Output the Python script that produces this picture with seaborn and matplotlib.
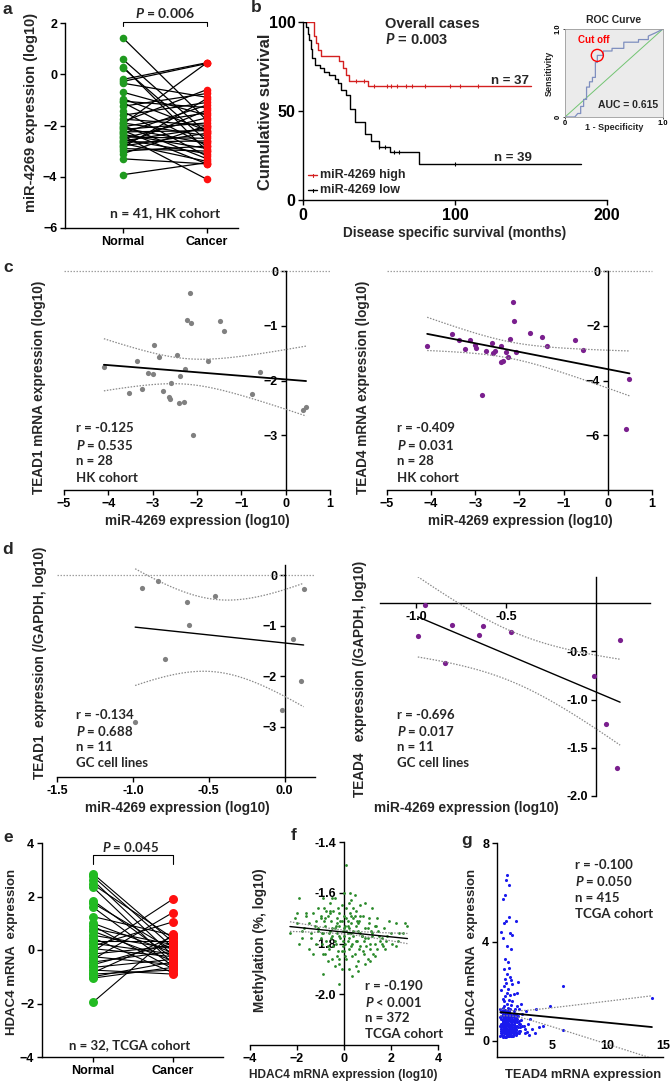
import numpy as np
import pandas as pd
import matplotlib
matplotlib.use("Agg")
import matplotlib.pyplot as plt
from matplotlib.lines import Line2D
import seaborn as sns

# ---------------- data ----------------
# panel a: paired miR-4269 (log10), HK cohort
a_normal = [1.42, 0.58, 0.30, 0.25, -0.20, -0.28, -0.35, -0.70, -0.95, -1.05, -1.10, -1.25, -1.45,
            -1.60, -1.75, -1.85, -1.90, -1.95, -2.00, -2.05, -2.10, -2.15, -2.20, -2.25, -2.30, -2.35,
            -2.40, -2.45, -2.50, -2.55, -2.60, -2.65, -2.70, -2.75, -2.80, -2.85, -2.90, -3.00, -3.10,
            -3.30, -3.92]
a_cancer = [-1.80, -2.30, -3.00, -2.60, 0.45, 0.42, -0.90, -1.60, -2.20, -1.30, -2.80, -0.75, -3.20,
            -1.10, -2.00, -0.60, -2.40, 0.45, -3.30, -1.50, -2.70, -1.90, -3.50, -2.20, -1.20, -2.90,
            -4.10, -2.50, -1.70, -3.10, -2.10, -2.60, -3.40, -1.40, -2.30, -0.95, -3.00, -2.80, -2.00,
            -3.50, -3.45]
a_groups = ["Normal", "Cancer"]

# panel b: Kaplan-Meier steps
km_high_t = [0, 7.5, 8.5, 10, 12, 24, 26, 28, 30, 43, 150]
km_high_s = [100, 92, 88, 84, 81, 78, 74, 70, 67, 64, 64]
km_high_cens = [35, 40, 47, 55, 58, 62, 68, 72, 80, 97, 103, 115]
km_low_t = [0, 2, 3, 4, 5, 6, 8, 11, 14, 17, 21, 23, 25, 28, 31, 34, 41, 45, 50, 57, 76, 183]
km_low_s = [100, 97, 93, 90, 85, 80, 76, 74, 72, 70, 68, 66, 62, 59, 51, 44, 37, 33, 30, 27, 20, 20]
km_low_cens = [50, 54, 60, 63, 100]

# ROC inset
roc_fpr = [0.0, 0.10, 0.13, 0.16, 0.16, 0.19, 0.19, 0.22, 0.22, 0.25, 0.25, 0.28, 0.28, 0.31, 0.31,
           0.33, 0.33, 0.39, 0.39, 0.48, 0.48, 0.60, 0.60, 0.75, 0.75, 0.85, 0.85, 0.93, 1.0]
roc_tpr = [0.0, 0.0, 0.04, 0.04, 0.12, 0.12, 0.20, 0.20, 0.34, 0.34, 0.40, 0.40, 0.45, 0.45, 0.62,
           0.62, 0.70, 0.70, 0.75, 0.75, 0.78, 0.78, 0.85, 0.85, 0.88, 0.88, 0.92, 0.96, 1.0]
roc_cut = (0.33, 0.70)

# panel c: HK cohort, n = 28
c1_x = [-2.16, -2.22, -2.14, -1.48, -1.38, -2.98, -2.86, -2.44, -3.36, -1.76, -2.26, -4.10, -3.11, -3.00,
        -2.38, -0.59, -2.58, -3.53, -3.23, -2.76, -2.63, -2.62, -2.41, -2.30, -0.77, 0.40, 0.46, -2.08]
c1_y = [-0.41, -0.89, -0.95, -0.92, -1.09, -1.36, -1.57, -1.53, -1.65, -1.64, -1.79, -1.75, -1.87, -1.89,
        -1.92, -1.85, -2.05, -2.22, -2.16, -2.19, -2.30, -2.33, -2.41, -2.39, -2.25, -2.53, -2.48, -2.99]
c4_x = [-2.15, -2.13, -2.21, -1.77, -1.48, -0.74, -1.38, -0.57, -3.53, -3.36, -3.11, -4.09, -3.23, -3.00,
        -2.98, -2.76, -2.62, -2.61, -2.56, -2.42, -2.30, -2.25, -2.41, -2.37, -2.07, -2.85, 0.49, 0.42]
c4_y = [-1.14, -1.84, -2.47, -2.27, -2.42, -2.51, -2.75, -2.87, -2.30, -2.51, -2.51, -2.75, -2.85, -2.69,
        -2.81, -2.93, -2.63, -2.99, -2.93, -2.73, -2.97, -3.14, -3.31, -3.30, -2.97, -4.53, -3.96, -5.78]

# panel d: GC cell lines, n = 11
d1_x = [-0.937, -0.832, -0.642, -0.460, -0.628, -0.788, -0.985, 0.125, 0.055, 0.109, -0.018]
d1_y = [-0.26, -0.11, -0.54, -0.41, -0.98, -1.67, -2.91, -0.28, -1.27, -2.09, -2.68]
d4_x = [-0.95, -0.99, -0.80, -0.63, -0.65, -0.47, -0.84, 0.134, -0.013, 0.058, 0.115]
d4_y = [-0.02, -0.34, -0.23, -0.24, -0.33, -0.30, -0.62, -0.38, -0.76, -1.25, -1.71]

# panel e: paired HDAC4 mRNA, TCGA
e_normal = [2.85, 2.75, 2.60, 2.45, 2.35, 1.85, 1.75, 1.60, 1.25, 1.00, 0.90, 0.80, 0.70, 0.55, 0.45, 0.35,
            0.25, 0.15, 0.05, -0.05, -0.15, -0.25, -0.35, -0.45, -0.55, -0.65, -0.75, -0.85, -0.90, -1.00,
            -1.05, -1.95]
e_cancer = [0.30, 0.10, -0.20, 0.45, -0.50, -0.30, 0.00, -0.60, 0.55, -0.10, -0.70, 0.20, -0.40, 0.05,
            -0.85, 0.35, -0.15, 1.05, -0.25, 1.90, 0.15, -0.55, 1.40, -0.05, 0.25, -0.35, -0.90, 0.50,
            -0.75, -0.45, -0.65, 0.60]

# panel f: HDAC4 mRNA vs methylation (estimated cloud)
f_x = [0.08, -1.9, 0.25, -0.9, -2.1, -2.3, -1.9, -0.9, -0.2, -0.4, 0.9, 1.1, 2.2, 2.6, 2.7, 2.3, 2.2, 1.6,
       2.0, 1.3, -1.5, -1.4, -1.3, -1.2, -1.1, -1.0, -1.0, -0.9, -0.85, -0.8, -0.75, -0.7, -0.65, -0.6,
       -0.55, -0.5, -0.5, -0.45, -0.4, -0.35, -0.3, -0.3, -0.25, -0.2, -0.2, -0.15, -0.1, -0.1, -0.05,
       -0.05, 0.0, 0.0, 0.05, 0.05, 0.1, 0.1, 0.15, 0.15, 0.2, 0.2, 0.25, 0.3, 0.3, 0.35, 0.4, 0.4, 0.45,
       0.5, 0.5, 0.55, 0.6, 0.65, 0.7, 0.75, 0.8, 0.85, 0.9, 1.0, 1.05, 1.1, 1.2, 1.3, 1.4, 1.5, 1.7, 1.8,
       -1.7, -1.6, -1.8, -1.3, -0.6, 0.3, 0.7, -0.2, 0.2, 0.6, -0.7, 1.2, -1.1, 0.9, 0.0, -0.4, 0.45, 1.0,
       -1.5, -2.0, 2.5, 1.9, -0.95, 0.35,
       -1.2, -1.0, -0.9, -0.8, -0.7, -0.6, -0.5, -0.4, -0.3, -0.2, -0.1, 0.0, 0.1, 0.2, 0.3, 0.4, 0.5, 0.6,
       0.7, 0.8, 0.9, 1.0, 1.1, 1.2, 1.4, 1.6,
       -1.1, -0.95, -0.75, -0.55, -0.35, -0.15, 0.05, 0.25, 0.45, 0.65, 0.85, 1.05, 1.25, 1.45, 1.65, 1.85,
       2.05, 2.35,
       -1.6, -1.4, -1.25, -0.85, -0.65, -0.45, -0.25, -0.05, 0.15, 0.35, 0.55, 0.75, 0.95, 1.15, 1.35, 1.55,
       1.75,
       -2.0, -1.8, -0.3, 0.1, 0.5, -0.6, 0.2, 0.0, -0.1, 0.4, 0.7, -0.8, 1.3, -0.5, 0.3, 0.6, -0.2, 0.15]
f_y = [-1.49, -1.62, -1.60, -1.62, -1.70, -1.76, -1.80, -1.92, -1.96, -1.89, -1.88, -1.87, -1.72, -1.72,
       -1.73, -1.79, -1.81, -1.80, -1.76, -1.73, -1.72, -1.76, -1.68, -1.80, -1.74, -1.70, -1.78, -1.84,
       -1.66, -1.73, -1.79, -1.69, -1.82, -1.75, -1.71, -1.77, -1.86, -1.67, -1.74, -1.80, -1.70, -1.76,
       -1.83, -1.68, -1.73, -1.78, -1.65, -1.71, -1.75, -1.81, -1.69, -1.77, -1.73, -1.85, -1.66, -1.75,
       -1.79, -1.71, -1.74, -1.82, -1.68, -1.76, -1.72, -1.80, -1.70, -1.77, -1.84, -1.73, -1.67, -1.79,
       -1.75, -1.71, -1.81, -1.77, -1.69, -1.84, -1.74, -1.78, -1.72, -1.82, -1.76, -1.80, -1.70, -1.77,
       -1.74, -1.79, -1.74, -1.69, -1.78, -1.84, -1.64, -1.63, -1.65, -1.88, -1.90, -1.87, -1.87, -1.66,
       -1.66, -1.64, -1.60, -1.62, -1.61, -1.86, -1.82, -1.72, -1.76, -1.71, -1.76, -1.93,
       -1.71, -1.69, -1.76, -1.70, -1.81, -1.68, -1.74, -1.79, -1.72, -1.77, -1.83, -1.74, -1.70, -1.78,
       -1.81, -1.75, -1.79, -1.72, -1.76, -1.83, -1.78, -1.74, -1.80, -1.77, -1.82, -1.78,
       -1.75, -1.80, -1.67, -1.78, -1.73, -1.71, -1.80, -1.76, -1.69, -1.82, -1.79, -1.70, -1.84, -1.75,
       -1.81, -1.77, -1.80, -1.76,
       -1.68, -1.78, -1.73, -1.71, -1.76, -1.81, -1.66, -1.79, -1.73, -1.85, -1.71, -1.77, -1.81, -1.75,
       -1.73, -1.79, -1.82,
       -1.68, -1.75, -1.85, -1.86, -1.89, -1.67, -1.64, -1.83, -1.90, -1.66, -1.69, -1.84, -1.85, -1.62,
       -1.69, -1.91, -1.86, -1.76]

# panel g: TEAD4 vs HDAC4 mRNA (estimated cloud)
g_x = [0.9, 0.8, 1.1, 0.5, 0.7, 1.1, 0.8, 1.7, 0.6, 0.4, 1.2, 1.4, 0.5, 0.9, 1.3, 0.7, 1.0, 1.1, 0.6,
       0.9, 1.2, 0.7, 1.3, 0.8, 1.4, 1.9, 0.6, 1.0, 0.4, 0.9, 1.5, 1.2, 0.7, 1.8, 0.5, 1.1,
       6.0, 14.0, 4.8, 3.5, 6.0, 2.6, 3.0, 2.4, 2.2,
       2.7, 3.2, 2.9, 3.8, 2.5, 3.4, 4.2,
       0.3, 0.4, 0.5, 0.5, 0.6, 0.6, 0.7, 0.7, 0.8, 0.8, 0.9, 0.9, 1.0, 1.0, 1.0, 1.1, 1.1, 1.2, 1.2,
       1.3, 1.3, 1.4, 1.4, 1.5, 1.5, 1.6, 1.6, 1.7, 1.8, 1.9, 2.0, 2.1, 2.3, 0.4, 0.6, 0.8, 0.9, 1.0,
       1.1, 1.2, 0.5, 0.7, 1.3, 1.5, 0.3, 0.6, 1.4, 1.7, 0.8, 1.0, 2.0, 1.8, 0.5, 0.9, 1.6,
       0.3, 0.35, 0.4, 0.45, 0.5, 0.55, 0.6, 0.65, 0.7, 0.75, 0.8, 0.85, 0.9, 0.95, 1.0, 1.05, 1.1, 1.15,
       1.2, 1.25, 1.3, 1.35, 1.4, 1.45, 1.5, 1.55, 1.6, 1.7, 1.75, 1.85, 1.95, 2.05, 2.2, 2.5, 2.8,
       0.4, 0.5, 0.6, 0.7, 0.8, 0.9, 1.0, 1.1, 1.2, 1.3, 1.4, 1.5, 1.6, 1.8, 2.0,
       0.45, 0.65, 0.85, 1.05, 1.25, 1.45, 0.55, 0.75, 0.95, 1.15,
       0.35, 0.45, 0.55, 0.65, 0.75, 0.85, 0.95, 1.05, 1.15, 1.25, 1.35, 1.45, 1.55, 1.65, 1.75, 1.85,
       0.4, 0.5, 0.6, 0.7,
       0.8, 0.9, 1.0, 1.1, 1.2, 1.3, 1.4, 1.5, 1.6, 1.7, 0.3, 0.5, 0.7, 0.9, 1.1, 1.3, 1.5, 1.7, 1.9, 2.1,
       0.35, 0.55, 0.75, 0.95, 1.15, 1.35, 1.55, 0.45, 0.65, 0.85, 1.05, 1.25, 1.45, 0.6, 0.8, 1.0, 1.2,
       1.4, 0.7, 0.9,
       1.0, 1.1, 1.2, 0.5, 0.6, 0.8, 1.3, 1.5, 0.4, 0.9, 1.7, 2.0, 2.3, 0.7, 1.1, 1.6, 0.55, 0.85, 1.25,
       1.45]
g_y = [6.7, 6.5, 6.3, 5.75, 5.9, 5.0, 4.85, 4.85, 4.75, 4.4, 4.35, 4.3, 4.15, 3.85, 3.7, 3.3, 3.2, 2.95,
       2.9, 2.7, 2.6, 2.5, 2.45, 2.35, 2.3, 2.4, 2.2, 2.1, 2.05, 1.95, 1.9, 1.85, 1.8, 1.95, 1.7, 1.65,
       2.2, 1.75, 1.4, 1.3, 0.45, 1.2, 0.9, 0.6, 1.5,
       0.35, 0.5, 0.25, 0.55, 0.3, 0.3, 0.6,
       1.3, 0.9, 1.1, 0.5, 1.4, 0.3, 1.0, 0.7, 1.2, 0.4, 1.5, 0.8, 1.0, 0.6, 0.2, 1.3, 0.9, 0.5, 1.1,
       0.8, 1.45, 0.4, 1.0, 0.7, 1.2, 0.9, 0.35, 1.1, 0.6, 1.0, 0.8, 0.4, 1.1, 0.3, 0.8, 0.6, 1.1, 1.35,
       0.5, 0.8, 0.75, 1.25, 0.3, 0.5, 0.6, 1.6, 1.6, 0.8, 0.9, 0.45, 1.3, 1.4, 1.35, 0.35, 1.3,
       0.2, 0.7, 1.0, 0.4, 0.9, 0.15, 0.6, 1.2, 0.3, 0.85, 1.05, 0.5, 0.25, 0.95, 0.7, 1.15, 0.35, 0.8,
       0.55, 1.0, 0.2, 0.65, 0.9, 0.45, 1.1, 0.3, 0.75, 0.5, 1.0, 0.3, 0.7, 0.55, 0.85, 0.5, 0.7,
       0.55, 0.35, 0.95, 0.15, 0.7, 0.5, 0.85, 0.25, 0.6, 1.05, 0.75, 0.3, 0.55, 0.9, 0.4,
       1.2, 0.5, 0.3, 0.9, 0.65, 0.2, 0.8, 0.45, 0.6, 1.0,
       0.6, 0.25, 0.85, 0.45, 1.1, 0.3, 0.65, 0.4, 0.95, 0.2, 0.55, 0.8, 0.35, 0.6, 0.25, 0.75,
       1.15, 0.65, 0.2, 0.9,
       0.5, 1.05, 0.3, 0.7, 0.95, 0.45, 0.2, 0.85, 0.6, 0.35, 0.95, 0.4, 0.55, 0.75, 0.2, 1.0, 0.65, 0.45,
       0.55, 0.7,
       0.4, 1.0, 0.6, 0.25, 1.3, 0.8, 0.5, 0.7, 1.25, 0.45, 0.85, 0.35, 1.05, 0.55, 0.15, 1.1, 0.65,
       0.5, 0.45, 1.2,
       0.9, 0.55, 0.3, 1.05, 0.75, 0.35, 0.6, 0.95, 0.5, 0.65, 0.9, 0.3, 0.6, 0.8, 1.2, 0.5, 0.4, 0.95,
       0.75, 0.25]

# ---------------- style ----------------
sns.set_theme(style="ticks")
plt.rcParams['font.family'] = ['Liberation Sans', 'DejaVu Sans']
plt.rcParams['font.weight'] = 'bold'
plt.rcParams['mathtext.fontset'] = 'custom'
plt.rcParams['mathtext.it'] = 'Lato:italic:bold'
plt.rcParams['mathtext.rm'] = 'Lato:bold'
plt.rcParams['axes.linewidth'] = 1.0
plt.rcParams['axes.edgecolor'] = 'black'
plt.rcParams['xtick.color'] = 'black'
plt.rcParams['ytick.color'] = 'black'

GREEN = '#1f9a1f'
RED = '#ff1010'
GREY = '#808080'
PURPLE = '#7a1f8e'
NOTE = ['Lato', 'DejaVu Sans']

W, H = 671, 1084
fig = plt.figure(figsize=(W / 100, H / 100), dpi=100)
fig.patch.set_facecolor('white')


def add_ax(x0, y0, x1, y1):
    return fig.add_axes([x0 / W, 1 - y1 / H, (x1 - x0) / W, (y1 - y0) / H])


def ftext(x, y, s, **kw):
    kw.setdefault('ha', 'center')
    kw.setdefault('va', 'center')
    kw.setdefault('fontweight', 'bold')
    fig.text(x / W, 1 - y / H, s, **kw)


def base(ax, fs=9):
    for s in ['top', 'right']:
        ax.spines[s].set_visible(False)
    ax.tick_params(direction='out', length=3.5, width=1, labelsize=fs, pad=2)
    ax.set_xlabel('')
    ax.set_ylabel('')
    ax.set_facecolor('none')


def fit_ci(x, y, n_report=None):
    x = np.asarray(x, float)
    y = np.asarray(y, float)
    m = len(x)
    b, a = np.polyfit(x, y, 1)
    xs = np.linspace(x.min(), x.max(), 80)
    yh = a + b * xs
    res = y - (a + b * x)
    s = np.sqrt(np.sum(res ** 2) / (m - 2))
    sxx = np.sum((x - x.mean()) ** 2)
    n = n_report if n_report else m
    sxx_eff = sxx * n / m
    se = s * np.sqrt(1.0 / n + (xs - x.mean()) ** 2 / sxx_eff)
    t = {28: 2.056, 11: 2.262}.get(n, 1.966)
    return xs, yh, yh + t * se, yh - t * se


def reg_lines(ax, x, y, n_report=None, lw=1.3):
    xs, yh, up, lo = fit_ci(x, y, n_report)
    sns.lineplot(x=xs, y=yh, color='black', lw=lw, ax=ax, zorder=4)
    for band in (up, lo):
        sns.lineplot(x=xs, y=band, color='#8a8a8a', lw=0.9, ls=(0, (1.2, 1.2)), ax=ax, zorder=4)


def notes(x, y0, lines, dy=16.5, fs=9.5):
    for i, s in enumerate(lines):
        ftext(x, y0 + i * dy, s, ha='left', fontsize=fs, family=NOTE)


# panel letters
for lab, (x, y) in {'a': (7, 9), 'b': (256, 8), 'c': (8, 268), 'd': (8, 550),
                    'e': (8, 838), 'f': (294, 836), 'g': (467, 840)}.items():
    ftext(x, y, lab, fontsize=12.5)

# ---------------- panel a ----------------
ax = add_ax(65, 23, 238, 228)
n = len(a_normal)
dfa = pd.DataFrame({'pair': list(range(n)) * 2, 'x': [0] * n + [1] * n, 'y': a_normal + a_cancer})
sns.lineplot(data=dfa, x='x', y='y', units='pair', estimator=None, color='black', lw=0.9,
             ax=ax, legend=False)
sns.scatterplot(x=[0] * n, y=a_normal, color=GREEN, s=30, linewidth=0, ax=ax, zorder=3)
sns.scatterplot(x=[1] * n, y=a_cancer, color=RED, s=30, linewidth=0, ax=ax, zorder=3)
ax.set_xlim(-0.69, 1.37)
ax.set_ylim(-6, 2)
ax.set_xticks([0, 1])
ax.set_xticklabels(a_groups)
ax.set_yticks([-6, -4, -2, 0, 2])
base(ax, 9)
ax.plot([0, 0, 1, 1], [1.9, 2.03, 2.03, 1.9], color='black', lw=0.8, clip_on=False)
ftext(165, 13, r'$\mathit{P}$ = 0.006', fontsize=10, family=NOTE)
ftext(165, 213, 'n = 41, HK cohort', fontsize=10, family=NOTE)
ftext(31, 112, 'miR-4269 expression (log10)', rotation=90, fontsize=10.5)

# ---------------- panel b ----------------
ax = add_ax(303, 22, 607, 200)
sns.lineplot(x=km_high_t, y=km_high_s, drawstyle='steps-post', estimator=None, sort=False,
             color='#d42020', lw=1.0, ax=ax)
sns.lineplot(x=km_low_t, y=km_low_s, drawstyle='steps-post', estimator=None, sort=False,
             color='black', lw=1.0, ax=ax)


def km_at(tt, ss, t):
    return [ss[np.searchsorted(tt, v, side='right') - 1] for v in t]


ax.scatter(km_high_cens, km_at(km_high_t, km_high_s, km_high_cens), marker='|', s=10,
           color='#d42020', lw=0.8, zorder=3)
ax.scatter(km_low_cens, km_at(km_low_t, km_low_s, km_low_cens), marker='|', s=10,
           color='black', lw=0.8, zorder=3)
ax.set_xlim(0, 200)
ax.set_ylim(0, 100)
ax.set_xticks([0, 100, 200])
ax.set_yticks([0, 50, 100])
base(ax, 11.5)
ftext(385, 24, 'Overall cases', ha='left', fontsize=10.5)
ftext(385, 40, r'$\mathit{P}$ = 0.003', ha='left', fontsize=10.5, family=['Liberation Sans'])
ftext(510, 81, 'n = 37', fontsize=9.5)
ftext(513, 158, 'n = 39', fontsize=9.5)
for yy, col, lab in [(175, '#d42020', 'miR-4269 high'), (190, 'black', 'miR-4269 low')]:
    fig.add_artist(Line2D([308 / W, 317 / W], [1 - yy / H] * 2, color=col, lw=1.0))
    fig.add_artist(Line2D([312.5 / W] * 2, [1 - (yy - 1.5) / H, 1 - (yy + 1.5) / H], color=col, lw=0.8))
    ftext(320, yy, lab, ha='left', fontsize=9)
ftext(265, 112, 'Cumulative survival', rotation=90, fontsize=12)
ftext(455, 233, 'Disease specific survival (months)', fontsize=9.8)

# ROC inset
ax = add_ax(565, 29, 663, 117)
ax.set_facecolor('#ebebeb')
sns.lineplot(x=[0, 1], y=[0, 1], color='#72c472', lw=0.7, ax=ax)
sns.lineplot(x=roc_fpr, y=roc_tpr, estimator=None, sort=False, color='#7f8fbf', lw=0.9, ax=ax)
ax.scatter([roc_cut[0]], [roc_cut[1]], s=75, facecolor='none', edgecolor='red', lw=1.0, zorder=5)
ax.set_xlim(0, 1)
ax.set_ylim(0, 1)
ax.set_xticks([0, 1])
ax.set_xticklabels(['0', '1.0'])
ax.set_yticks([0, 1])
ax.set_yticklabels(['0', '1.0'], rotation=90, va='center')
for s in ax.spines.values():
    s.set_color('#9a9a9a')
    s.set_linewidth(0.6)
ax.tick_params(length=1.5, width=0.5, labelsize=5.5, pad=1)
ax.set_xlabel('')
ax.set_ylabel('')
ax.text(0.13, 0.84, 'Cut off', color='red', fontsize=7, fontweight='bold', transform=ax.transAxes)
ax.text(0.95, 0.1, 'AUC = 0.615', ha='right', fontsize=7.5, fontweight='bold', transform=ax.transAxes)
ftext(614, 20, 'ROC Curve', fontsize=7.5)
ftext(614, 128, '1 - Specificity', fontsize=6.5)
ftext(549, 73, 'Sensitivity', rotation=90, fontsize=6.5)

# ---------------- panel c ----------------
for (x0, x1, xd, yd, col, ylo, yt, lab, nt, tx, ylx, xlx) in [
        (64, 330, c1_x, c1_y, GREY, -4, [0, -1, -2, -3], 'TEAD1 mRNA expression (log10)',
         ['r = -0.125', r'$\mathit{P}$ = 0.535', 'n = 28', 'HK cohort'], 76, 39, 197),
        (387, 652, c4_x, c4_y, PURPLE, -8, [0, -2, -4, -6], 'TEAD4 mRNA expression (log10)',
         ['r = -0.409', r'$\mathit{P}$ = 0.031', 'n = 28', 'HK cohort'], 397, 363, 520)]:
    ax = add_ax(x0, 271, x1, 490)
    ax.axhline(0, color='#a0a0a0', lw=0.9, ls=(0, (1.2, 1.2)), clip_on=False, zorder=1)
    sns.scatterplot(x=xd, y=yd, color=col, s=14, linewidth=0, ax=ax, zorder=3)
    reg_lines(ax, xd, yd)
    ax.set_xlim(-5, 1)
    ax.set_ylim(ylo, 0)
    ax.set_xticks([-5, -4, -3, -2, -1, 0, 1])
    ax.set_yticks(yt)
    base(ax, 9)
    ax.spines['left'].set_position(('data', 0))
    notes(tx, 428, nt)
    ftext(ylx, 387, lab, rotation=90, fontsize=9.8)
    ftext(xlx, 521, 'miR-4269 expression (log10)', fontsize=9.8)

# ---------------- panel d ----------------
ax = add_ax(57, 565, 315, 777)
ax.axhline(0, color='#a0a0a0', lw=0.9, ls=(0, (1.2, 1.2)), zorder=1)
sns.scatterplot(x=d1_x, y=d1_y, color=GREY, s=14, linewidth=0, ax=ax, zorder=3)
reg_lines(ax, d1_x, d1_y, lw=1.0)
ax.set_xlim(-1.5, 0.2)
ax.set_ylim(-4, 0.2)
ax.set_xticks([-1.5, -1.0, -0.5, 0.0])
ax.set_xticklabels(['-1.5', '-1.0', '-0.5', '0.0'])
ax.set_yticks([0, -1, -2, -3])
base(ax, 9)
ax.spines['left'].set_position(('data', 0))
notes(76, 715, ['r = -0.134', r'$\mathit{P}$ = 0.688', 'n = 11', 'GC cell lines'], dy=16)
ftext(40, 663, 'TEAD1  expression (/GAPDH, log10)', rotation=90, fontsize=9.8)
ftext(177, 808, 'miR-4269 expression (log10)', fontsize=9.8)

ax = add_ax(380, 577, 650, 796)
sns.scatterplot(x=d4_x, y=d4_y, color=PURPLE, s=14, linewidth=0, ax=ax, zorder=3)
reg_lines(ax, d4_x, d4_y, lw=1.0)
ax.set_xlim(-1.2, 0.3)
ax.set_ylim(-2.0, 0.27)
ax.set_xticks([-1.0, -0.5])
ax.set_xticklabels(['-1.0', '-0.5'])
ax.set_yticks([-0.5, -1.0, -1.5, -2.0])
ax.set_yticklabels(['-0.5', '-1.0', '-1.5', '-2.0'])
base(ax, 9)
ax.spines['left'].set_position(('data', 0))
ax.spines['bottom'].set_position(('data', 0))
notes(397, 715, ['r = -0.696', r'$\mathit{P}$ = 0.017', 'n = 11', 'GC cell lines'], dy=16)
ftext(360, 679, 'TEAD4   expression (/GAPDH, log10)', rotation=90, fontsize=9.8)
ftext(466, 808, 'miR-4269 expression (log10)', fontsize=9.8)

# ---------------- panel e ----------------
ax = add_ax(42, 843, 223, 1057)
n = len(e_normal)
dfe = pd.DataFrame({'pair': list(range(n)) * 2, 'x': [0] * n + [1] * n, 'y': e_normal + e_cancer})
sns.lineplot(data=dfe, x='x', y='y', units='pair', estimator=None, color='black', lw=0.8,
             ax=ax, legend=False)
sns.scatterplot(x=[0] * n, y=e_normal, color='#22bb22', s=42, linewidth=0, ax=ax, zorder=3)
sns.scatterplot(x=[1] * n, y=e_cancer, color=RED, s=42, linewidth=0, ax=ax, zorder=3)
ax.set_xlim(-0.64, 1.63)
ax.set_ylim(-4, 4)
ax.set_xticks([0, 1])
ax.set_xticklabels(a_groups)
ax.set_yticks([-4, -2, 0, 2, 4])
base(ax, 9)
ax.plot([0, 0, 1, 1], [3.2, 3.55, 3.55, 3.2], color='black', lw=0.8, clip_on=False)
ftext(130, 847, r'$\mathit{P}$ = 0.045', fontsize=9.5, family=NOTE)
ftext(130, 1045, 'n = 32, TCGA cohort', fontsize=9.5, family=NOTE)
ftext(12, 952, 'HDAC4 mRNA  expression', rotation=90, fontsize=9.5)

# ---------------- panel f ----------------
ax = add_ax(250, 842, 438, 1045)
sns.scatterplot(x=f_x, y=f_y, color='#2a8a2a', s=4, linewidth=0, ax=ax, zorder=3)
reg_lines(ax, f_x, f_y, n_report=372, lw=1.0)
ax.set_xlim(-4, 4)
ax.set_ylim(-2.2, -1.4)
ax.set_xticks([-4, -2, 0, 2, 4])
ax.set_yticks([-1.4, -1.6, -1.8, -2.0])
ax.set_yticklabels(['-1.4', '-1.6', '-1.8', '-2.0'])
base(ax, 9)
ax.spines['left'].set_position(('data', 0))
notes(365, 986, ['r = -0.190', r'$\mathit{P}$ < 0.001', 'n = 372', 'TCGA cohort'], dy=16)
ftext(260, 940, 'Methylation (%, log10)', rotation=90, fontsize=9.8)
ftext(343, 1075, 'HDAC4 mRNA expression (log10)', fontsize=8.6)

# ---------------- panel g ----------------
ax = add_ax(497, 843, 663, 1057)
sns.scatterplot(x=g_x, y=g_y, color='#1a1aee', s=5, linewidth=0, ax=ax, zorder=3)
reg_lines(ax, g_x, g_y, n_report=415, lw=1.3)
ax.set_xlim(0, 15)
ax.set_ylim(-0.65, 8)
ax.set_xticks([5, 10, 15])
ax.set_yticks([0, 4, 8])
base(ax, 9)
ax.tick_params(axis='x', length=0, pad=-12)
notes(575, 865, ['r = -0.100', r'$\mathit{P}$ = 0.050', 'n = 415', 'TCGA cohort'], dy=16.5)
ftext(472, 952, 'HDAC4 mRNA  expression', rotation=90, fontsize=9.5)
ftext(583, 1075, 'TEAD4 mRNA expression', fontsize=9.3)

fig.savefig('out.png', dpi=100, facecolor='white')
